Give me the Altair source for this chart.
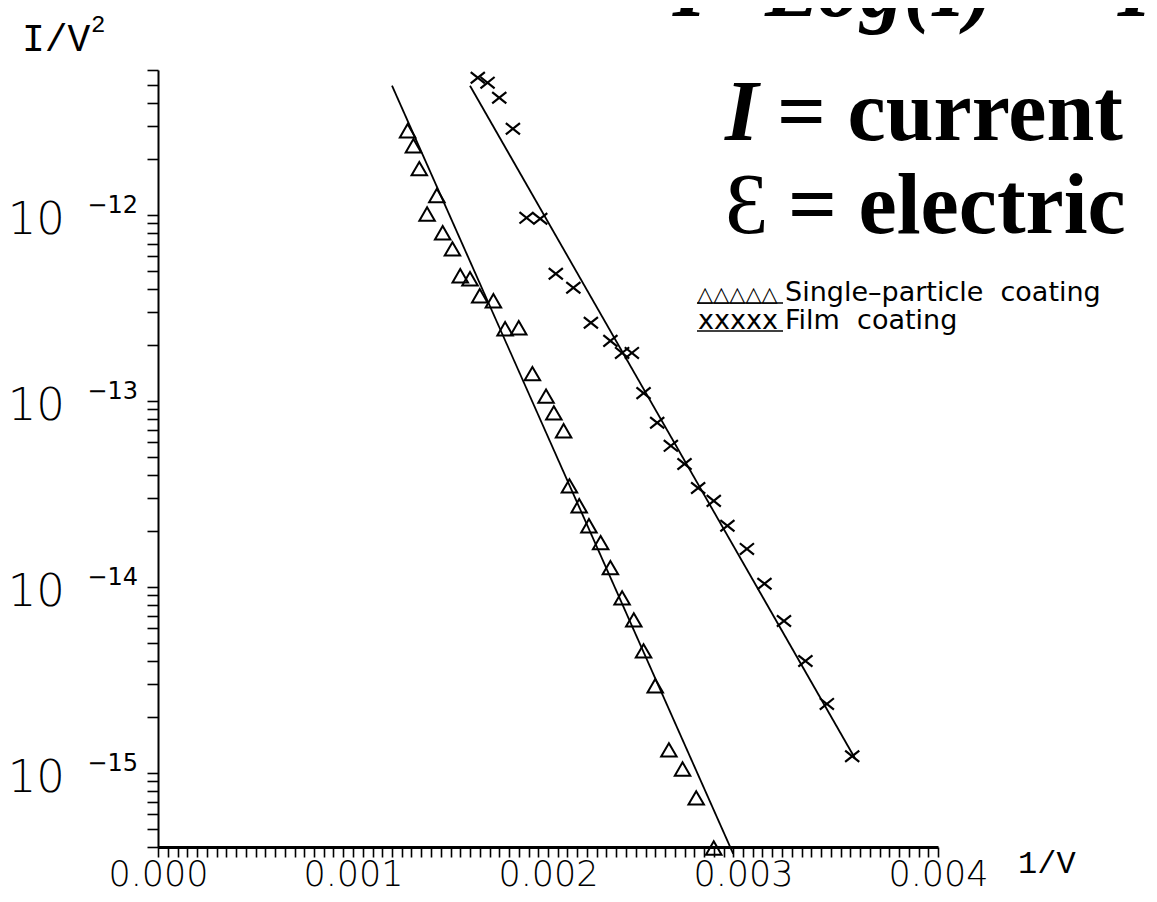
import altair as alt
import pandas as pd

# ---- data ----
tri_x = [0.00128, 0.00131, 0.00134, 0.00143, 0.00138, 0.00146, 0.00151, 0.00155, 0.00160, 0.00165,
         0.00172, 0.00178, 0.00185, 0.00192, 0.00199, 0.00203, 0.00208, 0.00211, 0.00216, 0.00221,
         0.00227, 0.00232, 0.00238, 0.00244, 0.00249, 0.00255, 0.00262, 0.00269, 0.00276, 0.00285]
tri_y = [2.83e-12, 2.35e-12, 1.77e-12, 1.27e-12, 1.01e-12, 8.0e-13, 6.56e-13, 4.70e-13, 4.53e-13, 3.67e-13,
         3.45e-13, 2.44e-13, 2.47e-13, 1.40e-13, 1.06e-13, 8.62e-14, 6.90e-14, 3.49e-14, 2.73e-14, 2.13e-14,
         1.73e-14, 1.27e-14, 8.73e-15, 6.65e-15, 4.53e-15, 2.94e-15, 1.33e-15, 1.05e-15, 7.35e-16, 3.95e-16]

film_x = [0.00164, 0.00169, 0.00175, 0.00182, 0.00189, 0.00196, 0.00204, 0.00213, 0.00222, 0.00232,
          0.00238, 0.00243, 0.00249, 0.00256, 0.00263, 0.00270, 0.00277, 0.00285, 0.00292, 0.00302,
          0.00311, 0.00321, 0.00332, 0.00343, 0.00356]
film_y = [5.45e-12, 5.13e-12, 4.26e-12, 2.90e-12, 9.63e-13, 9.52e-13, 4.82e-13, 4.05e-13, 2.63e-13, 2.10e-13,
          1.81e-13, 1.81e-13, 1.10e-13, 7.62e-14, 5.73e-14, 4.58e-14, 3.40e-14, 2.90e-14, 2.13e-14, 1.60e-14,
          1.04e-14, 6.56e-15, 4.00e-15, 2.35e-15, 1.23e-15]

fit_tri_x = [0.00120, 0.00295]
fit_tri_y = [4.94e-12, 3.67e-16]
fit_film_x = [0.00160, 0.003574]
fit_film_y = [4.94e-12, 1.20e-15]

x_domain = [0.0, 0.004]
y_domain = [4e-16, 6e-12]
x_minor_step = 0.00005
decades = [1e-12, 1e-13, 1e-14, 1e-15]
decade_exp = ["\u221212", "\u221213", "\u221214", "\u221215"]

x_ticks = [round(i * x_minor_step, 6) for i in range(int(round(x_domain[1] / x_minor_step)) + 1)]
y_ticks = []
for n in range(-16, -11):
    for k in range(1, 10):
        v = float(f"{k}e{n}")
        if y_domain[0] * 0.9999 <= v <= y_domain[1] * 1.0001:
            y_ticks.append(v)

pts = pd.DataFrame({
    "x": tri_x + film_x,
    "y": tri_y + film_y,
    "series": ["Single-particle coating"] * len(tri_x) + ["Film coating"] * len(film_x),
})
fits = pd.DataFrame({
    "x": fit_tri_x + fit_film_x,
    "y": fit_tri_y + fit_film_y,
    "series": ["tri", "tri", "film", "film"],
})
dec = pd.DataFrame({"y": decades, "exp": decade_exp})

x_enc = alt.X("x:Q", scale=alt.Scale(domain=x_domain, nice=False, zero=False),
              axis=alt.Axis(values=x_ticks, title=None, grid=False,
                            labelExpr="abs(datum.value*1000 - round(datum.value*1000)) < 0.001 ? format(datum.value, '.3f') : ''",
                            labelFont="DejaVu Sans", labelFontSize=35, labelFontWeight=300,
                            labelColor="black", labelPadding=0, labelFlush=False,
                            labelOverlap=False, labelBound=False,
                            tickSize=10, tickWidth=1.6, tickColor="black",
                            domainColor="black", domainWidth=3))
y_enc = alt.Y("y:Q", scale=alt.Scale(type="log", domain=y_domain, nice=False),
              axis=alt.Axis(values=y_ticks, title=None, grid=False, labels=False,
                            tickSize=11, tickWidth=1.6, tickColor="black",
                            domainColor="black", domainWidth=2))

tri_layer = alt.Chart(pts).transform_filter(alt.datum.series == "Single-particle coating").mark_point(
    shape="triangle-up", filled=False, size=240, strokeWidth=2, color="black", opacity=1
).encode(x=x_enc, y=y_enc)

film_layer = alt.Chart(pts).transform_filter(alt.datum.series == "Film coating").mark_point(
    shape="M-1,-0.8L1,0.8M-1,0.8L1,-0.8", filled=False, size=200, strokeWidth=2.2, color="black", opacity=1
).encode(x=x_enc, y=y_enc)

fit_layer = alt.Chart(fits).mark_line(color="black", strokeWidth=1.8).encode(
    x=x_enc, y=y_enc, detail="series:N")

dec_base = alt.Chart(dec).mark_text(
    align="right", baseline="middle", dy=5, font="DejaVu Sans", fontSize=45, fontWeight=300, color="black"
).encode(x=alt.value(-93), y=y_enc, text=alt.value("10"))

dec_exp = alt.Chart(dec).mark_text(
    align="right", baseline="alphabetic", dy=-2, font="DejaVu Sans", fontSize=24, color="black"
).encode(x=alt.value(-20), y=y_enc, text="exp:N")

one = alt.Data(values=[{"a": 1}])


def note(txt, px, py, **kw):
    return alt.Chart(one).mark_text(align="left", baseline="alphabetic", color="black", **kw).encode(
        x=alt.value(px), y=alt.value(py), text=alt.value(txt))


def hline(x1, x2, yy, w=1.6):
    return alt.Chart(one).mark_rule(color="black", strokeWidth=w).encode(
        x=alt.value(x1), x2=alt.value(x2), y=alt.value(yy))


serif = "Liberation Serif"
nb = "\u00a0"
notes = [
    note("I/V", -136, -19, font="Liberation Mono", fontSize=38),
    note("2", -67, -38, font="Liberation Mono", fontSize=24),
    note("1/V", 860, 803, font="Liberation Mono", fontSize=32),
    # cropped big title at the top
    note("I", 515, -54, font=serif, fontSize=86, fontWeight="bold", fontStyle="italic"),
    note("Log(I)", 607, -54, font=serif, fontSize=86, fontWeight="bold", fontStyle="italic"),
    note("I", 960, -54, font=serif, fontSize=86, fontWeight="bold", fontStyle="italic"),
    # definitions
    note("I", 567, 70, font=serif, fontSize=86, fontWeight="bold", fontStyle="italic"),
    note("= current", 619, 70, font=serif, fontSize=86, fontWeight="bold"),
    note("\u0190", 567, 163, font=serif, fontSize=86),
    note("= electric", 630, 163, font=serif, fontSize=86, fontWeight="bold"),
    # legend
    note("\u25b3\u25b3\u25b3\u25b3\u25b3", 539, 231, font="DejaVu Sans", fontSize=21, fontWeight="bold"),
    note("Single\u2013particle" + nb + nb + "coating", 627, 231, font="DejaVu Sans", fontSize=27),
    note("xxxxx", 540, 259, font="DejaVu Sans", fontSize=27),
    note("Film" + nb + nb + "coating", 627, 259, font="DejaVu Sans", fontSize=27),
    hline(539, 625, 233),
    hline(539, 625, 261),
]

chart = alt.layer(fit_layer, tri_layer, film_layer, dec_base, dec_exp, *notes).properties(
    width=780, height=777,
    padding={"left": 150, "top": 62, "right": 211, "bottom": 52},
    autosize=alt.AutoSizeParams(type="none"),
    background="white",
).configure_view(stroke="transparent")

chart.save("out.html", embed_options={"renderer": "svg", "actions": False})
